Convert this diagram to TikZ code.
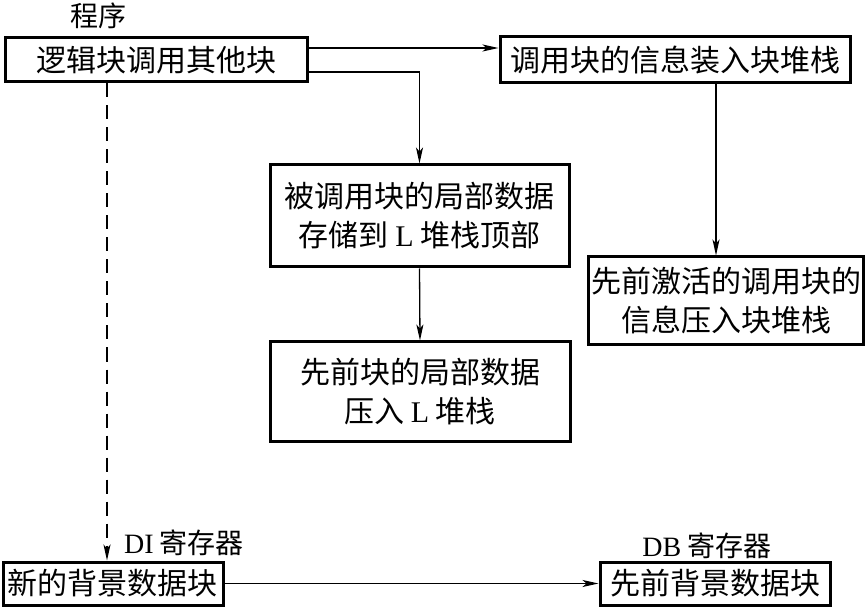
\documentclass[tikz,border=0pt]{standalone}
\usepackage{fontspec}
\setmainfont{Liberation Serif}
\newfontfamily\cjk{Noto Sans CJK SC}
\usetikzlibrary{arrows.meta}
\newcommand{\lat}[1]{{\rmfamily #1}}
\begin{document}
\begin{tikzpicture}[x=1pt,y=-1pt,
  box/.style={draw,line width=3pt,inner sep=0pt,align=center,
    font=\cjk\fontsize{30}{39}\selectfont},
  lbl/.style={inner sep=0pt,font=\cjk\fontsize{28}{32}\selectfont},
  conn/.style={line width=1.3pt,-{Stealth[length=16pt,width=7pt,inset=4pt]}},
  dconn/.style={conn,dash pattern=on 14pt off 8pt}]
\useasboundingbox (0,0) rectangle (867,609);
\node[box,minimum width=302pt,minimum height=44pt] (A) at (156,60) {逻辑块调用其他块};
\node[box,minimum width=350pt,minimum height=46pt] (B) at (675,60) {调用块的信息装入块堆栈};
\node[box,minimum width=299pt,minimum height=102pt] (C) at (419.5,216) {被调用块的局部数据\\存储到 \lat{L} 堆栈顶部};
\node[box,minimum width=300pt,minimum height=99pt] (D) at (420,391.5) {先前块的局部数据\\压入 \lat{L} 堆栈};
\node[box,minimum width=275pt,minimum height=88pt] (E) at (726,301) {先前激活的调用块的\\信息压入块堆栈};
\node[box,minimum width=220pt,minimum height=43pt] (F) at (113,583.5) {新的背景数据块};
\node[box,minimum width=230pt,minimum height=43pt] (G) at (715,583.5) {先前背景数据块};
\node[lbl] (prog) at (98,16) {程序};
\node[lbl] (di) at (184,543) {\lat{DI} 寄存器};
\node[lbl] (db) at (707,546) {\lat{DB} 寄存器};
\draw[conn] ([yshift=12pt]A.east) coordinate (a1) -- (a1 -| B.west);
\draw[conn] ([yshift=-12pt]A.east) -| (C.north);
\draw[conn] (C.south) -- (D.north);
\draw[conn] ([xshift=-10pt]E.north |- B.south) -- ([xshift=-10pt]E.north);
\draw[dconn] ([xshift=-49pt]A.south) coordinate (a2) -- (a2 |- F.north);
\draw[conn] (F.east) -- (G.west);
\end{tikzpicture}
\end{document}
